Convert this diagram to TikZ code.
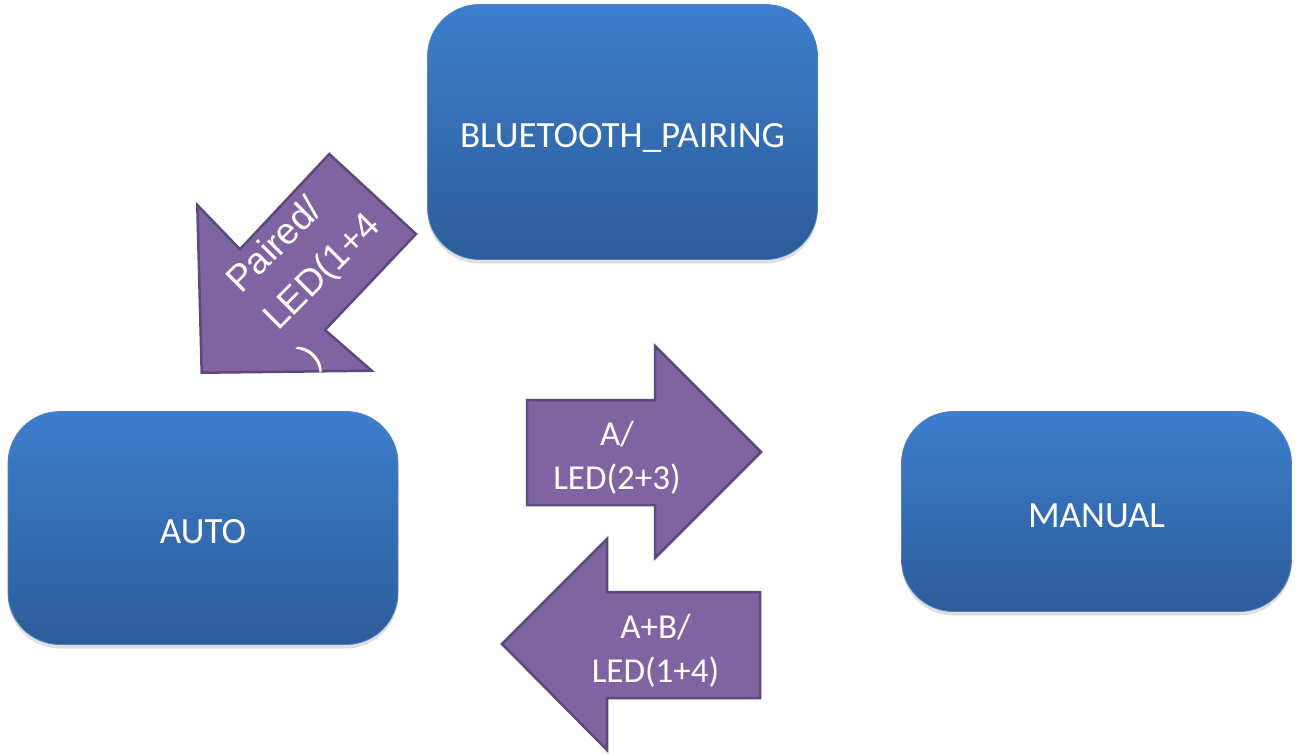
\documentclass[tikz,border=0pt]{standalone}
\usepackage{fontspec}
\setmainfont{Carlito}
\newfontfamily\arialfont{Liberation Sans}
\usepackage{tikz}
\usetikzlibrary{shadows}

\definecolor{boxtop}{RGB}{60,126,204}
\definecolor{boxbottom}{RGB}{45,92,153}
\definecolor{boxedge}{RGB}{80,130,195}
\definecolor{arrowfill}{RGB}{128,100,162}
\definecolor{arrowedge}{RGB}{93,72,122}

\begin{document}
\begin{tikzpicture}[x=1pt, y=-1pt,
    statebox/.style={rectangle, rounded corners=52pt, top color=boxtop, bottom color=boxbottom,
        draw=boxedge, line width=0.8pt, text=white, font=\fontsize{37}{44}\selectfont,
        text height=31pt, text depth=0pt,
        drop shadow={opacity=0.25, shadow xshift=0pt, shadow yshift=-4pt}},
    blockarrow/.style={fill=arrowfill, draw=arrowedge, line width=2.5pt, line join=miter},
    arrowtext/.style={text=white, align=center, inner sep=0pt, font=\fontsize{35}{44}\selectfont}]
        \useasboundingbox (0,0) rectangle (1299,753);
        \node [statebox, minimum width=390pt, minimum height=255pt] (pairing) at (622.5,132) {BLUETOOTH\_PAIRING};
        \node [statebox, minimum width=390pt, minimum height=233pt] (auto) at (203,528) {AUTO};
        \node [statebox, minimum width=390pt, minimum height=200pt] (manual) at (1096.5,511.5) {MANUAL};
        \draw [blockarrow] (201.7,372.7) -- (197.3,205) -- (240,249.3) -- (329.3,154) -- (416,234) -- (325,330) -- (371.7,370.7) -- cycle;
        \node [text=white, align=left, inner sep=0pt, rotate=45, anchor=north west,
            font=\arialfont\fontsize{37}{52}\selectfont] (paired) at (222,276) {Paired/\\LED(1+4\\)};
        \draw [blockarrow] (527,400) -- (655,400) -- (655,346) -- (761,452) -- (655,558) -- (655,505) -- (527,505) -- cycle;
        \node [arrowtext] (toManual) at (617,458) {A/\\LED(2+3)};
        \draw [blockarrow] (502,644) -- (607,539) -- (607,592) -- (760,592) -- (760,698) -- (607,698) -- (607,750) -- cycle;
        \node [arrowtext] (toAuto) at (655.5,651) {A+B/\\LED(1+4)};
    \end{tikzpicture}
\end{document}
